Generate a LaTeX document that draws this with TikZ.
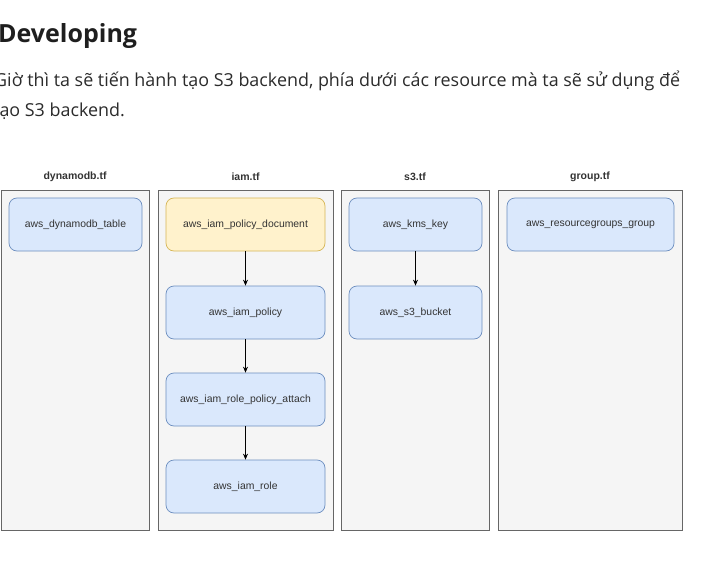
\documentclass[tikz,border=0pt]{standalone}
\usepackage{fontspec}
\setmainfont{Open Sans}
\newfontfamily\drawfont{Liberation Sans}
\usetikzlibrary{arrows.meta}

\definecolor{headtext}{HTML}{1E1E1E}
\definecolor{bodytext}{HTML}{2B2B2B}
\definecolor{panelfill}{HTML}{F5F5F5}
\definecolor{panelline}{HTML}{666666}
\definecolor{resfill}{HTML}{DAE8FC}
\definecolor{resline}{HTML}{6C8EBF}
\definecolor{docfill}{HTML}{FFF2CC}
\definecolor{docline}{HTML}{D6B656}
\definecolor{labeltext}{HTML}{333333}

\begin{document}
\begin{tikzpicture}[
		x=1pt,
		y=-1pt,
		panel/.style={draw=panelline, fill=panelfill, line width=0.8pt, inner sep=0pt, minimum height=340pt, minimum width=#1},
		filetitle/.style={font=\drawfont\bfseries\fontsize{10.5}{12}\selectfont, text=labeltext},
		resource/.style={draw=resline, fill=resfill, line width=0.7pt, rounded corners=8pt, inner sep=0pt, minimum height=53pt, minimum width=#1, font=\drawfont\fontsize{10.4}{12}\selectfont, text=labeltext},
		policydoc/.style={resource=#1, draw=docline, fill=docfill},
		dep/.style={-{Stealth[length=6pt,width=5pt]}, line width=0.8pt, black}
	]
		\useasboundingbox (0,0) rectangle (719,561);

		% Heading and text
		\node[anchor=base west, inner sep=0pt, text=headtext, font=\bfseries\fontsize{25}{30}\selectfont] (heading) at (-2,43) {Developing};
		\node[anchor=base west, inner sep=0pt, text=bodytext, font=\fontsize{17.9}{21}\selectfont] (lineone) at (-6,87) {Giờ thì ta sẽ tiến hành tạo S3 backend, phía dưới các resource mà ta sẽ sử dụng để};
		\node[anchor=base west, inner sep=0pt, text=bodytext, font=\fontsize{17.9}{21}\selectfont] (linetwo) at (-7,117) {tạo S3 backend.};

		% File panels
		\node[panel=148pt] (dynamodbtf) at (75,360) {};
		\node[panel=175pt] (iamtf) at (245.5,360) {};
		\node[panel=148pt] (sthreetf) at (415,360) {};
		\node[panel=184pt] (grouptf) at (590,360) {};

		\node[filetitle] (dynamodbtitle) at (75,177) {dynamodb.tf};
		\node[filetitle] (iamtitle) at (245.5,177) {iam.tf};
		\node[filetitle] (sthreetitle) at (415,177) {s3.tf};
		\node[filetitle] (grouptitle) at (590,177) {group.tf};

		% dynamodb.tf
		\node[resource=133pt] (dynamotable) at (75.5,224.5) {aws\_dynamodb\_table};

		% iam.tf
		\node[policydoc=159pt] (policydocument) at (245.5,224.5) {aws\_iam\_policy\_document};
		\node[resource=159pt] (iampolicy) at (245.5,312.5) {aws\_iam\_policy};
		\node[resource=159pt] (policyattach) at (245.5,399.5) {aws\_iam\_role\_policy\_attach};
		\node[resource=159pt] (iamrole) at (245.5,486.5) {aws\_iam\_role};

		\draw[dep] (policydocument) -- (iampolicy);
		\draw[dep] (iampolicy) -- (policyattach);
		\draw[dep] (policyattach) -- (iamrole);

		% s3.tf
		\node[resource=133pt] (kmskey) at (415.5,224.5) {aws\_kms\_key};
		\node[resource=133pt] (sthreebucket) at (415.5,312.5) {aws\_s3\_bucket};

		\draw[dep] (kmskey) -- (sthreebucket);

		% group.tf
		\node[resource=167pt] (resourcegroup) at (590.5,224.5) {aws\_resourcegroups\_group};
\end{tikzpicture}
\end{document}
